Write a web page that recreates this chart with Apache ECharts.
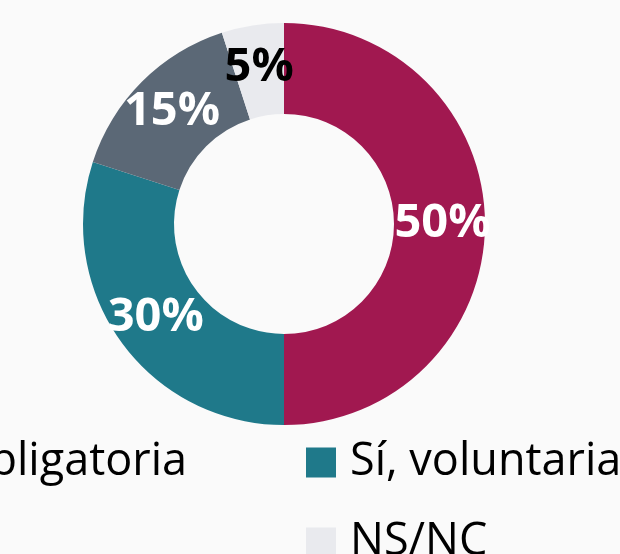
<!DOCTYPE html>
<html>
<head>
<meta charset="utf-8">
<script src="https://cdn.jsdelivr.net/npm/echarts@6/dist/echarts.min.js"></script>
<style>
html,body{margin:0;padding:0;background:#fafafa;}
#c{width:620px;height:554px;}
</style>
</head>
<body>
<div id="c"></div>
<script>
const categories = ['Sí, obligatoria', 'Sí, voluntaria', 'No', 'NS/NC'];
const values = [50, 30, 15, 5];
const colors = ['#A11850', '#1F798A', '#5B6876', '#E9EAEE'];
const labelColors = ['#ffffff', '#ffffff', '#ffffff', '#000000'];

const chart = echarts.init(document.getElementById('c'), null, {renderer: 'canvas'});
const fontFamily = '"Open Sans", "Noto Sans", sans-serif';
const legendText = {fontFamily: fontFamily, fontSize: 45, color: '#000', padding: [0, 0, 0, 9]};

chart.setOption({
  backgroundColor: '#fafafa',
  animation: false,
  legend: [
    {
      data: [categories[0], categories[2]],
      orient: 'vertical',
      right: 433,
      top: 440,
      height: 300,
      padding: 0,
      itemWidth: 30,
      itemHeight: 30,
      itemGap: 35,
      icon: 'rect',
      selectedMode: false,
      textStyle: legendText
    },
    {
      data: [categories[1], categories[3]],
      orient: 'vertical',
      left: 306,
      top: 440,
      height: 300,
      padding: 0,
      itemWidth: 30,
      itemHeight: 30,
      itemGap: 35,
      icon: 'rect',
      selectedMode: false,
      textStyle: legendText
    }
  ],
  series: [{
    type: 'pie',
    center: [284, 224],
    radius: [110, 201],
    startAngle: 90,
    clockwise: true,
    avoidLabelOverlap: false,
    emphasis: {disabled: true},
    label: {
      show: true,
      position: 'inside',
      fontFamily: fontFamily,
      fontWeight: 'bold',
      fontSize: 47,
      formatter: '{c}%'
    },
    labelLine: {show: false},
    data: categories.map((name, i) => ({
      name: name,
      value: values[i],
      itemStyle: {color: colors[i]},
      label: {color: labelColors[i]}
    }))
  }]
});
</script>
</body>
</html>
